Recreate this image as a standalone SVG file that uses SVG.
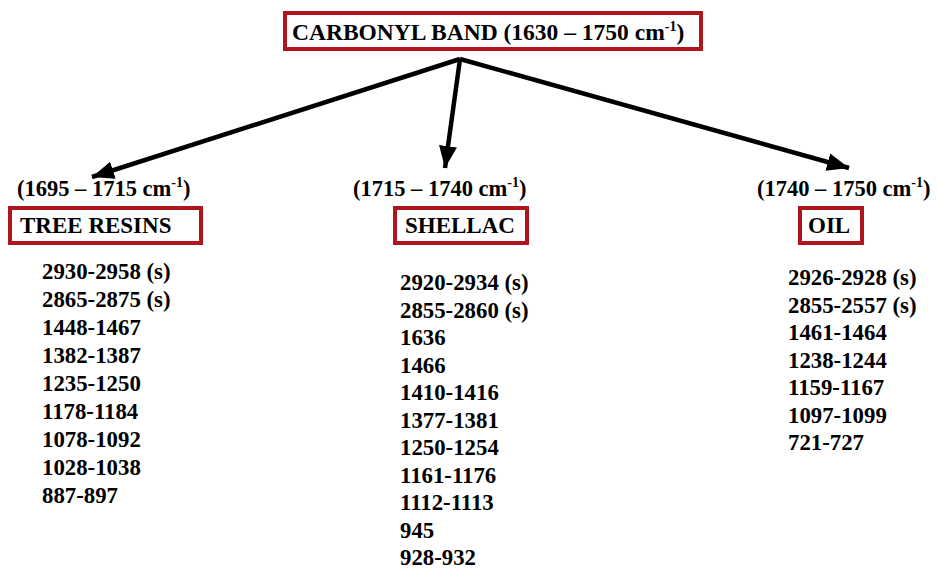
<svg xmlns="http://www.w3.org/2000/svg" width="938" height="569" viewBox="0 0 938 569">
<defs>
<style>
.box{fill:#fff;stroke:#b0141c;stroke-width:4}
.t{font-family:"Liberation Serif","Times New Roman",serif;font-weight:bold;fill:#000}
.title{font-size:23.5px}
.sub{font-size:22.5px}
.lab{font-size:23px}
.lst{font-size:22.8px}
.sup{font-size:14px}
.conn{stroke:#000;stroke-width:4.5;fill:none;marker-end:url(#ah)}
</style>
<marker id="ah" markerUnits="userSpaceOnUse" markerWidth="24" markerHeight="20" refX="22" refY="9" orient="auto">
<path d="M0,0 L22,9 L0,18 z" fill="#000"/>
</marker>
</defs>
<rect width="938" height="569" fill="#fff"/>
<g id="connectors">
<line class="conn" x1="460" y1="59" x2="92" y2="177"/>
<line class="conn" x1="460" y1="59" x2="445" y2="168"/>
<line class="conn" x1="460" y1="59" x2="849" y2="168"/>
</g>
<g id="carbonyl">
<rect class="box" x="285" y="13" width="416" height="36"/>
<text class="t title" x="292" y="40">CARBONYL BAND (1630 – 1750 cm<tspan class="sup" dy="-9">-1</tspan><tspan dy="9">)</tspan></text>
</g>
<g id="tree-resins">
<text class="t sub" x="17" y="196">(1695 – 1715 cm<tspan class="sup" dy="-9">-1</tspan><tspan dy="9">)</tspan></text>
<rect class="box" x="10" y="208" width="191" height="35"/>
<text class="t lab" x="20" y="233">TREE RESINS</text>
<text class="t lst" x="42" y="279">2930-2958 (s)</text>
<text class="t lst" x="42" y="307">2865-2875 (s)</text>
<text class="t lst" x="42" y="335">1448-1467</text>
<text class="t lst" x="42" y="363">1382-1387</text>
<text class="t lst" x="42" y="391">1235-1250</text>
<text class="t lst" x="42" y="419">1178-1184</text>
<text class="t lst" x="42" y="447">1078-1092</text>
<text class="t lst" x="42" y="475">1028-1038</text>
<text class="t lst" x="42" y="503">887-897</text>
</g>
<g id="shellac">
<text class="t sub" x="353" y="196">(1715 – 1740 cm<tspan class="sup" dy="-9">-1</tspan><tspan dy="9">)</tspan></text>
<rect class="box" x="395" y="208" width="132" height="35"/>
<text class="t lab" x="405" y="233">SHELLAC</text>
<text class="t lst" x="400" y="290">2920-2934 (s)</text>
<text class="t lst" x="400" y="317.5">2855-2860 (s)</text>
<text class="t lst" x="400" y="345">1636</text>
<text class="t lst" x="400" y="372.5">1466</text>
<text class="t lst" x="400" y="400">1410-1416</text>
<text class="t lst" x="400" y="427.5">1377-1381</text>
<text class="t lst" x="400" y="455">1250-1254</text>
<text class="t lst" x="400" y="482.5">1161-1176</text>
<text class="t lst" x="400" y="510">1112-1113</text>
<text class="t lst" x="400" y="537.5">945</text>
<text class="t lst" x="400" y="565">928-932</text>
</g>
<g id="oil">
<text class="t sub" x="757" y="196">(1740 – 1750 cm<tspan class="sup" dy="-9">-1</tspan><tspan dy="9">)</tspan></text>
<rect class="box" x="800" y="208" width="62" height="35"/>
<text class="t lab" x="808" y="233">OIL</text>
<text class="t lst" x="788" y="285">2926-2928 (s)</text>
<text class="t lst" x="788" y="312.5">2855-2557 (s)</text>
<text class="t lst" x="788" y="340">1461-1464</text>
<text class="t lst" x="788" y="367.5">1238-1244</text>
<text class="t lst" x="788" y="395">1159-1167</text>
<text class="t lst" x="788" y="422.5">1097-1099</text>
<text class="t lst" x="788" y="450">721-727</text>
</g>
</svg>
